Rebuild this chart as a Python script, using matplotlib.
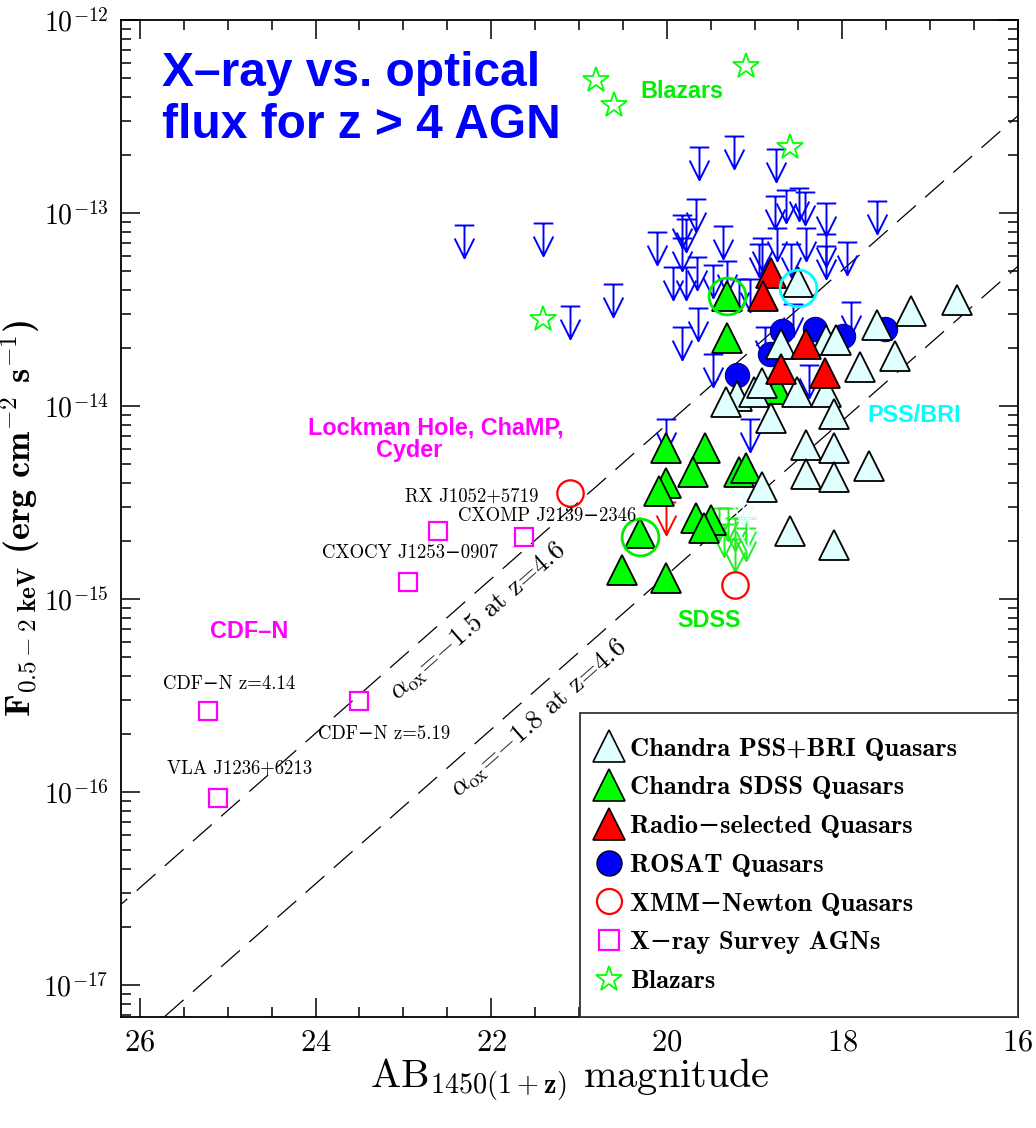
import numpy as np
import matplotlib.pyplot as plt
from matplotlib.path import Path
from matplotlib.lines import Line2D
from matplotlib.ticker import FixedLocator, MultipleLocator, LogLocator, FuncFormatter, NullFormatter

plt.rcParams['font.family'] = ['cmr10', 'DejaVu Serif']
plt.rcParams['mathtext.fontset'] = 'cm'
plt.rcParams['axes.formatter.use_mathtext'] = True

# ---- data: AB magnitude and log10 of 0.5-2 keV flux ----
pss_mag = [18.51, 17.61, 17.22, 16.70, 17.40, 17.80, 18.70, 18.19, 18.07, 19.20, 19.32,
           19.01, 18.92, 18.52, 18.19, 18.81, 18.10, 18.41, 18.10, 18.41, 18.10, 17.70,
           18.91, 18.60, 18.10]
pss_logf = [-13.36, -13.58, -13.51, -13.45, -13.74, -13.80, -13.68, -13.66, -13.66, -13.95, -13.98,
            -13.93, -13.88, -13.93, -13.93, -14.06, -14.04, -14.20, -14.22, -14.35, -14.37, -14.31,
            -14.42, -14.65, -14.72]

sdss_mag = [19.31, 19.31, 18.75, 20.01, 19.56, 19.70, 19.18, 19.10, 20.01, 20.09, 19.67,
            19.50, 19.58, 20.31, 20.51, 20.01]
sdss_logf = [-13.43, -13.65, -13.91, -14.22, -14.22, -14.34, -14.34, -14.32, -14.40, -14.44, -14.58,
             -14.59, -14.63, -14.66, -14.85, -14.89]

radio_mag = [18.81, 18.90, 18.41, 18.70, 18.20]
radio_logf = [-13.31, -13.43, -13.68, -13.81, -13.83]

rosat_mag = [18.69, 18.31, 17.99, 17.51, 18.82, 19.20]
rosat_logf = [-13.61, -13.60, -13.64, -13.60, -13.73, -13.84]

xmm_mag = [21.10, 19.22]
xmm_logf = [-14.45, -14.93]

survey_mag = [22.61, 21.63, 22.95, 23.51, 25.22, 25.11]
survey_logf = [-14.65, -14.68, -14.91, -15.53, -15.58, -16.03]
survey_names = ['RX J1052+5719', 'CXOMP J2139\u22122346', 'CXOCY J1253\u22120907',
                'CDF\u2212N z=5.19', 'CDF\u2212N z=4.14', 'VLA J1236+6213']
survey_label_mag = [22.22, 21.36, 22.92, 23.22, 24.98, 24.86]
survey_label_logf = [-14.47, -14.57, -14.76, -15.70, -15.44, -15.88]

blazar_mag = [20.81, 20.60, 19.10, 18.60, 21.41]
blazar_logf = [-12.31, -12.44, -12.24, -12.66, -13.55]

# upper limits (value at the bar)
ul_blue_mag = [22.31, 21.41, 21.10, 20.61, 20.11, 19.63, 19.23, 18.76, 18.77, 18.64, 18.49,
               18.43, 19.67, 19.83, 19.78, 17.60, 18.19, 19.36, 18.74, 18.41, 18.91, 18.19,
               17.95, 18.58, 19.83, 19.93, 19.78, 19.66, 19.47, 19.31, 18.95, 18.19, 19.65,
               17.90, 19.18, 19.05, 19.83, 19.47, 18.88, 18.56, 18.38, 19.05, 20.01]
ul_blue_logf = [-13.06, -13.05, -13.48, -13.37, -13.10, -12.66, -12.60, -12.67, -12.91, -12.88, -12.87,
                -12.89, -12.93, -13.01, -13.03, -12.94, -12.95, -13.07, -13.08, -13.08, -13.13, -13.11,
                -13.15, -13.16, -13.13, -13.28, -13.28, -13.23, -13.27, -13.25, -13.16, -13.17, -13.49,
                -13.46, -13.34, -13.34, -13.59, -13.73, -13.59, -13.47, -13.79, -14.07, -14.07]
ul_sdss_mag = [19.41, 19.30, 19.22, 19.10, 19.35, 19.10, 19.22]
ul_sdss_logf = [-14.53, -14.53, -14.58, -14.58, -14.61, -14.63, -14.69]
ul_pss_mag = [19.13, 19.07]
ul_pss_logf = [-14.45, -14.58]
ul_xmm_mag = [20.01]
ul_xmm_logf = [-14.50]

ring_green_mag = [19.31, 20.31]
ring_green_logf = [-13.43, -14.68]
ring_cyan_mag = [18.51]
ring_cyan_logf = [-13.39]

# alpha_ox reference lines: log F = a - 0.4 m
alpha_labels = ['$\\alpha_{\\rm ox}$=$-$1.5 at z=4.6', '$\\alpha_{\\rm ox}$=$-$1.8 at z=4.6']
alpha_intercepts = [-6.096, -6.876]
alpha_label_mag = [22.25, 21.55]

mag_ticks = [26, 24, 22, 20, 18, 16]
flux_ticks = [1e-17, 1e-16, 1e-15, 1e-14, 1e-13, 1e-12]

def flux(logf):
    return 10.0 ** np.asarray(logf)

# upper-limit symbol: bar at the value, arrow pointing down
ul_marker = Path([(-0.3, 0), (0.3, 0), (0, 0), (0, -1), (-0.3, -0.4), (0, -1), (0.3, -0.4)],
                 [Path.MOVETO, Path.LINETO, Path.MOVETO, Path.LINETO,
                  Path.MOVETO, Path.LINETO, Path.LINETO])

fig = plt.figure(figsize=(10.36, 11.28), dpi=100)
ax = fig.add_axes([0.1168, 0.0984, 0.8658, 0.8839])
ax.set_yscale('log')
ax.set_xlim(26.216, 16.0)
ax.set_ylim(10 ** -17.166, 1e-12)

# reference lines
mm = np.array([27.0, 15.0])
for a in alpha_intercepts:
    ax.plot(mm, flux(a - 0.4 * mm), color='black', lw=0.9, dashes=(20, 10), zorder=1)

# upper limits
def uplim(m, lf, color, z):
    ax.plot(m, flux(lf), ls='none', marker=ul_marker, ms=47, mew=1.4,
            mec=color, mfc='none', zorder=z)

uplim(ul_blue_mag, ul_blue_logf, '#0000ff', 2)
uplim(ul_sdss_mag, ul_sdss_logf, '#22ee22', 2.1)
uplim(ul_pss_mag, ul_pss_logf, '#e0ffff', 2.2)
uplim(ul_xmm_mag, ul_xmm_logf, '#ff0000', 2.3)

ax.plot(rosat_mag, flux(rosat_logf), ls='none', marker='o', ms=17.5, mfc='#0000ff',
        mec='#000080', mew=0.8, zorder=3)
ax.plot(sdss_mag, flux(sdss_logf), ls='none', marker='^', ms=22, mfc='#00ff00',
        mec='black', mew=1.3, zorder=4)
ax.plot(pss_mag, flux(pss_logf), ls='none', marker='^', ms=22, mfc='#e0ffff',
        mec='black', mew=1.3, zorder=5)
ax.plot(radio_mag, flux(radio_logf), ls='none', marker='^', ms=22, mfc='#ff0000',
        mec='black', mew=1.3, zorder=6)
ax.plot(xmm_mag, flux(xmm_logf), ls='none', marker='o', ms=19, mfc='none',
        mec='#ff0000', mew=1.6, zorder=6)
ax.plot(survey_mag, flux(survey_logf), ls='none', marker='s', ms=13, mfc='none',
        mec='#ff00ff', mew=1.6, zorder=6)
ax.plot(blazar_mag, flux(blazar_logf), ls='none', marker='*', ms=19, mfc='none',
        mec='#00ff00', mew=1.3, zorder=6)
ax.plot(ring_green_mag, flux(ring_green_logf), ls='none', marker='o', ms=26.5, mfc='none',
        mec='#00ee00', mew=2, zorder=7)
ax.plot(ring_cyan_mag, flux(ring_cyan_logf), ls='none', marker='o', ms=26.5, mfc='none',
        mec='#00ffff', mew=2, zorder=7)

# object names
for name, m, lf in zip(survey_names, survey_label_mag, survey_label_logf):
    ax.text(m, 10 ** lf, name, fontsize=13.5, ha='center', va='center', zorder=8)

# alpha_ox labels just below the lines
p0 = ax.transData.transform((20.0, 1e-14))
p1 = ax.transData.transform((19.0, 10 ** (-14 + 0.4)))
angle = np.degrees(np.arctan2(p1[1] - p0[1], p1[0] - p0[0]))
for lab, a, m in zip(alpha_labels, alpha_intercepts, alpha_label_mag):
    ax.text(m, 10 ** (a - 0.4 * m - 0.07), lab, fontsize=19.5, rotation=angle,
            rotation_mode='anchor', ha='center', va='top', zorder=8)

# coloured group labels
grp = dict(family='Liberation Sans', fontweight='bold', fontsize=16.8, ha='center', va='center')
ax.text(19.83, 10 ** -12.373, 'Blazars', color='#00ee00', **grp)
ax.text(17.18, 10 ** -14.047, 'PSS/BRI', color='#00ffff', **grp)
ax.text(19.52, 10 ** -15.109, 'SDSS', color='#00ee00', **grp)
ax.text(22.625, 10 ** -14.114, 'Lockman Hole, ChaMP,', color='#ff00ff', **grp)
ax.text(22.93, 10 ** -14.233, 'Cyder', color='#ff00ff', **grp)
ax.text(24.76, 10 ** -15.171, 'CDF\u2013N', color='#ff00ff', **grp)

ax.text(0.0457, 0.969, 'X\u2013ray vs. optical\nflux for z > 4 AGN', transform=ax.transAxes,
        family='Liberation Sans', fontweight='bold', fontsize=34.5, color='#0000ff',
        ha='left', va='top', linespacing=1.2, zorder=8)

# axes cosmetics
ax.xaxis.set_major_locator(FixedLocator(mag_ticks))
ax.xaxis.set_minor_locator(MultipleLocator(0.5))
ax.yaxis.set_major_locator(FixedLocator(flux_ticks))
ax.yaxis.set_minor_locator(LogLocator(base=10, subs=np.arange(2, 10), numticks=20))
ax.yaxis.set_major_formatter(FuncFormatter(lambda v, p: r'$10^{%d}$' % round(np.log10(v))))
ax.yaxis.set_minor_formatter(NullFormatter())
ax.tick_params(which='both', direction='in', top=True, right=True, width=1.1)
ax.tick_params(which='major', length=14)
ax.tick_params(which='minor', length=7)
ax.tick_params(axis='x', which='major', labelsize=22, pad=9)
ax.tick_params(axis='y', which='major', labelsize=20, pad=9)
for s in ax.spines.values():
    s.set_linewidth(1.3)

ax.set_xlabel(r'AB$_{\mathbf{1450(1+z)}}$ magnitude', fontsize=29, labelpad=0)
ax.set_ylabel(r'F$_{\mathbf{0.5-2\ keV}}$ (erg cm$^{\mathbf{-2}}$ s$^{\mathbf{-1}}$)',
              family=['cmb10', 'DejaVu Serif'], fontsize=26, labelpad=0)

handles = [
    Line2D([], [], ls='none', marker='^', ms=23.5, mfc='#e0ffff', mec='black', mew=1.2),
    Line2D([], [], ls='none', marker='^', ms=23.5, mfc='#00ff00', mec='black', mew=1.2),
    Line2D([], [], ls='none', marker='^', ms=23.5, mfc='#ff0000', mec='black', mew=1.2),
    Line2D([], [], ls='none', marker='o', ms=18, mfc='#0000ff', mec='black', mew=1.0),
    Line2D([], [], ls='none', marker='o', ms=18, mfc='none', mec='#ff0000', mew=1.6),
    Line2D([], [], ls='none', marker='s', ms=14, mfc='none', mec='#ff00ff', mew=1.6),
    Line2D([], [], ls='none', marker='*', ms=19, mfc='none', mec='#00ff00', mew=1.3),
]
labels = ['Chandra PSS+BRI Quasars', 'Chandra SDSS Quasars', 'Radio\u2212selected Quasars',
          'ROSAT Quasars', 'XMM\u2212Newton Quasars', 'X\u2212ray Survey AGNs', 'Blazars']
leg = ax.legend(handles, labels, loc='lower left', bbox_to_anchor=(0.512, 0.0, 0.488, 0.308),
                mode='expand', borderaxespad=0, fancybox=False, framealpha=1,
                edgecolor='#333333', handlelength=0.4, handletextpad=0.6, labelspacing=0.58,
                borderpad=0.9, prop={'family': ['cmb10', 'DejaVu Serif'], 'size': 19})
leg.get_frame().set_linewidth(1.3)
leg.set_zorder(10)

fig.savefig('out.png', dpi=100)
